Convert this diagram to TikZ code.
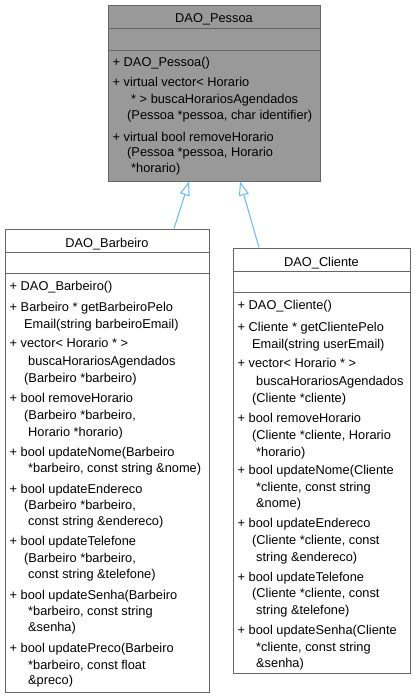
\documentclass[tikz,border=0pt]{standalone}
\usepackage{fontspec}
\setmainfont{Liberation Sans}
\usetikzlibrary{arrows.meta}
\definecolor{edgeblue}{HTML}{63B8FF}
\definecolor{boxline}{HTML}{666666}
\definecolor{basegray}{HTML}{999999}

\begin{document}
\begin{tikzpicture}[x=1pt, y=-1pt,
    classbox/.style={draw=boxline, line width=1pt, inner sep=0pt},
    divider/.style={draw=boxline, line width=1pt},
    classname/.style={anchor=base, yshift=-4.3pt, inner sep=0pt, font=\fontsize{12.8pt}{15pt}\selectfont},
    member/.style={anchor=base west, yshift=-4.3pt, inner sep=0pt, font=\fontsize{12.8pt}{15pt}\selectfont},
    inherit/.style={draw=edgeblue, line width=1pt, -{Triangle[length=14pt, width=10pt, fill=white]}}]
  \useasboundingbox (0,0) rectangle (415,699);

  \node[classbox, fill=basegray, minimum width=212pt, minimum height=176pt] (pessoa) at (214,93) {};
  \node[classbox, minimum width=204pt, minimum height=463pt] (barbeiro) at (107,460.5) {};
  \node[classbox, minimum width=177pt, minimum height=425pt] (cliente) at (321.5,460.5) {};

  \draw[divider] (pessoa.north west) ++(0,24) -- ++(212,0) (pessoa.north west) ++(0,46) -- ++(212,0);
  \draw[divider] (barbeiro.north west) ++(0,24) -- ++(204,0) (barbeiro.north west) ++(0,45) -- ++(204,0);
  \draw[divider] (cliente.north west) ++(0,24) -- ++(177,0) (cliente.north west) ++(0,45) -- ++(177,0);

  \node[classname] (pessoaname) at (214,18) {DAO\_Pessoa};
  \node[classname] (barbeironame) at (107,243) {DAO\_Barbeiro};
  \node[classname] (clientename) at (321.5,262) {DAO\_Cliente};

  \foreach \x/\y/\t [count=\i] in {
      112.5/62/{+ DAO\_Pessoa()},
      112.5/82/{+ virtual vector< Horario},
      131/99/{* > buscaHorariosAgendados},
      127/115/{(Pessoa *pessoa, char identifier)},
      112.5/137/{+ virtual bool removeHorario},
      127/152/{(Pessoa *pessoa, Horario},
      131/168/{*horario)}}
    \node[member] (pm\i) at (\x,\y) {\t};

  \foreach \x/\y/\t [count=\i] in {
      9.5/286/{+ DAO\_Barbeiro()},
      9.5/307/{+ Barbeiro * getBarbeiroPelo},
      24/324/{Email(string barbeiroEmail)},
      9.5/343/{+ vector< Horario * >},
      28/361/{buscaHorariosAgendados},
      24/378/{(Barbeiro *barbeiro)},
      9.5/398/{+ bool removeHorario},
      24/415/{(Barbeiro *barbeiro,},
      28/432/{Horario *horario)},
      9.5/452/{+ bool updateNome(Barbeiro},
      28/468/{*barbeiro, const string \&nome)},
      9.5/489/{+ bool updateEndereco},
      24/505/{(Barbeiro *barbeiro,},
      28/521/{const string \&endereco)},
      9.5/541/{+ bool updateTelefone},
      24/558/{(Barbeiro *barbeiro,},
      28/574/{const string \&telefone)},
      9.5/595/{+ bool updateSenha(Barbeiro},
      28/611/{*barbeiro, const string},
      28/627/{\&senha)},
      9.5/648/{+ bool updatePreco(Barbeiro},
      28/665/{*barbeiro, const float},
      28/680/{\&preco)}}
    \node[member] (bm\i) at (\x,\y) {\t};

  \foreach \x/\y/\t [count=\i] in {
      237.5/305/{+ DAO\_Cliente()},
      237.5/327/{+ Cliente * getClientePelo},
      252/344/{Email(string userEmail)},
      237.5/363/{+ vector< Horario * >},
      256/381/{buscaHorariosAgendados},
      252/398/{(Cliente *cliente)},
      237.5/418/{+ bool removeHorario},
      252/435/{(Cliente *cliente, Horario},
      256/452/{*horario)},
      237.5/470/{+ bool updateNome(Cliente},
      256/487/{*cliente, const string},
      256/503/{\&nome)},
      237.5/523/{+ bool updateEndereco},
      252/540/{(Cliente *cliente, const},
      256/557/{string \&endereco)},
      237.5/577/{+ bool updateTelefone},
      252/593/{(Cliente *cliente, const},
      256/610/{string \&telefone)},
      237.5/630/{+ bool updateSenha(Cliente},
      256/647/{*cliente, const string},
      256/663/{\&senha)}}
    \node[member] (cm\i) at (\x,\y) {\t};

  \draw[inherit] ([xshift=67pt]barbeiro.north) -- ([xshift=-25pt]pessoa.south);
  \draw[inherit] ([xshift=-62.5pt]cliente.north) -- ([xshift=26pt]pessoa.south);
\end{tikzpicture}
\end{document}
